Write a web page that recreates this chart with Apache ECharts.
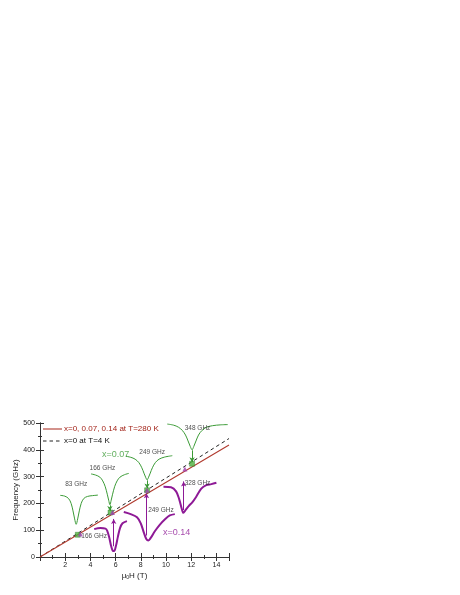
<!DOCTYPE html>
<html>
<head>
<meta charset="utf-8">
<script src="https://cdn.jsdelivr.net/npm/echarts@6/dist/echarts.min.js"></script>
<style>
  html, body { margin: 0; padding: 0; background: #fff; }
  #chart { width: 460px; height: 595px; }
</style>
</head>
<body>
<div id="chart"></div>
<script>
// lines: [field T, frequency GHz]
const line280K = [[0, 0], [15, 418]]
const line4K = [[0, 0], [15, 442]]

// x=0.07 spectra (green), drawn in plot units
const green83 = [[1.6,230],[1.97,227],[2.27,218],[2.47,200],[2.62,172],[2.75,142],[2.87,122],[2.99,142],[3.12,172],[3.27,200],[3.47,218],[3.77,226],[4.17,229],[4.6,231]]
const green166 = [[4.05,310],[4.4,306],[4.75,298],[4.98,284],[5.18,262],[5.35,232],[5.45,212],[5.55,195],[5.65,212],[5.75,232],[5.92,262],[6.12,284],[6.35,298],[6.7,307],[7.05,312]]
const green249 = [[6.8,376],[7.2,372],[7.55,365],[7.85,352],[8.08,333],[8.25,313],[8.38,298],[8.5,288],[8.62,298],[8.75,313],[8.92,333],[9.15,352],[9.45,365],[9.9,373],[10.5,378]]
const green348 = [[10.1,496],[10.6,492],[11.0,484],[11.3,472],[11.55,455],[11.75,433],[11.93,412],[12.07,400],[12.2,412],[12.38,433],[12.58,455],[12.85,472],[13.2,484],[13.7,490],[14.3,493],[14.9,494]]

// x=0.14 spectra (purple)
const purple166 = [[4.3,104],[4.8,108],[5.2,106],[5.35,96],[5.5,72],[5.65,40],[5.78,23],[5.88,22],[6.02,40],[6.18,75],[6.35,108],[6.55,126],[6.9,134]]
const purple249 = [[6.65,168],[7.2,160],[7.7,148],[8.0,125],[8.25,90],[8.45,66],[8.6,62],[8.8,72],[9.1,95],[9.5,120],[9.9,140],[10.3,155],[10.7,160]]
const purple328 = [[9.8,262],[10.4,260],[10.8,245],[11.05,215],[11.25,180],[11.38,165],[11.55,175],[11.8,190],[12.1,205],[12.4,225],[12.8,255],[13.2,268],[13.6,272],[14.0,277]]

// resonance points
const greenPoints = [[3.0,83],[5.6,166],[8.5,249],[12.07,348]]
const purplePoints = [[3.2,86],[5.75,166],[8.5,249],[11.5,328]]

// arrows [x, from, to]
const greenArrows = [[5.55,193,172],[8.5,286,256],[12.07,398,354]]
const purpleArrows = [[5.85,40,142],[8.45,80,238],[11.4,175,282]]

// annotations [x, y, text]
const peakLabels = [
  [2.87,270,'83 GHz'],[4.95,332,'166 GHz'],[8.9,390,'249 GHz'],[12.5,480,'348 GHz'],
  [4.3,79,'166 GHz'],[9.6,176,'249 GHz'],[12.5,274,'328 GHz']
]
const sampleLabels = [[6.0,382,'x=0.07','#3a9a35'],[10.85,90,'x=0.14','#8e1a96']]

const GREEN = '#3a9a35'
const PURPLE = '#8e1a96'
const FONT = 'Liberation Sans'

const chart = echarts.init(document.getElementById('chart'))

function curve(data, color, width) {
  return { type: 'line', data, smooth: 0.35, symbol: 'none', silent: true,
    lineStyle: { color, width }, z: 3 }
}

function arrows(list, color, width) {
  return { type: 'line', data: [], silent: true,
    markLine: { silent: true, symbol: ['none', 'arrow'], symbolSize: [4, 5],
      lineStyle: { color, width, type: 'solid' }, label: { show: false },
      data: list.map(a => [{ coord: [a[0], a[1]] }, { coord: [a[0], a[2]] }]) } }
}

const axisCommon = {
  axisLine: { lineStyle: { color: '#333', width: 1 } },
  axisTick: { inside: true, length: 4, lineStyle: { color: '#333' } },
  minorTick: { show: true, splitNumber: 2, length: 2, lineStyle: { color: '#333' } },
  splitLine: { show: false }
}

chart.setOption({
  animation: false,
  textStyle: { fontFamily: FONT },
  grid: { left: 40, right: 231, top: 423, bottom: 38 },
  xAxis: [
    Object.assign({ type: 'value', min: 0, max: 15, interval: 2,
      name: '{a|μ}{s|0}{a|H (T)}', nameLocation: 'middle', nameGap: 14,
      nameTextStyle: { rich: { a: { fontSize: 8, color: '#222' }, s: { fontSize: 5, color: '#222', verticalAlign: 'bottom', padding: [4, 0, 0, 0] } } },
      axisLabel: { fontSize: 7, color: '#222', margin: 5, showMaxLabel: false, formatter: v => (v === 0 ? '' : v) } }, axisCommon),
    Object.assign({ type: 'value', min: 0, max: 15, interval: 2, position: 'top',
      axisLabel: { show: false } }, axisCommon)
  ],
  yAxis: [
    Object.assign({ type: 'value', min: 0, max: 500, interval: 100,
      name: 'Frequency (GHz)', nameLocation: 'middle', nameGap: 18,
      nameTextStyle: { fontSize: 8, color: '#222' },
      axisLabel: { fontSize: 7, color: '#222', margin: 5 } }, axisCommon),
    Object.assign({ type: 'value', min: 0, max: 500, interval: 100, position: 'right',
      axisLabel: { show: false } }, axisCommon)
  ],
  series: [
    { type: 'line', data: line4K, symbol: 'none', silent: true, z: 2,
      lineStyle: { color: '#222', width: 1, type: [3.5, 3] } },
    { type: 'line', data: line280K, symbol: 'none', silent: true, z: 2,
      lineStyle: { color: '#b03a2e', width: 1.1 } },
    curve(green83, GREEN, 1), curve(green166, GREEN, 1), curve(green249, GREEN, 1), curve(green348, GREEN, 1),
    curve(purple166, PURPLE, 2), curve(purple249, PURPLE, 2), curve(purple328, PURPLE, 2),
    arrows(greenArrows, GREEN, 1),
    arrows(purpleArrows, PURPLE, 1),
    { type: 'scatter', data: greenPoints, symbol: 'rect', symbolSize: 5, z: 5, silent: true,
      itemStyle: { color: '#4caf3c', borderColor: '#2a7a25', borderWidth: 0.5 } },
    { type: 'scatter', data: purplePoints, symbol: 'triangle', symbolSize: 5, z: 5, silent: true,
      itemStyle: { color: '#a040b0' } },
    { type: 'scatter', data: peakLabels.map(p => ({ value: [p[0], p[1]], name: p[2] })),
      symbolSize: 0, silent: true, z: 6,
      label: { show: true, position: 'inside', formatter: p => p.name, fontSize: 6.5, color: '#222' } },
    { type: 'scatter', data: sampleLabels.map(p => ({ value: [p[0], p[1]], name: p[2], label: { color: p[3] } })),
      symbolSize: 0, silent: true, z: 6,
      label: { show: true, position: 'inside', formatter: p => p.name, fontSize: 9 } }
  ],
  graphic: [
    { type: 'line', shape: { x1: 43, y1: 429, x2: 62, y2: 429 }, style: { stroke: '#b03a2e', lineWidth: 1.1 } },
    { type: 'text', x: 64, y: 429, style: { text: 'x=0, 0.07, 0.14 at T=280 K', fill: '#a3241a', font: '8px "Liberation Sans"', verticalAlign: 'middle' } },
    { type: 'line', shape: { x1: 43, y1: 441, x2: 62, y2: 441 }, style: { stroke: '#222', lineWidth: 1, lineDash: [3.5, 3] } },
    { type: 'text', x: 64, y: 441, style: { text: 'x=0 at T=4 K', fill: '#111', font: '8px "Liberation Sans"', verticalAlign: 'middle' } }
  ]
})
</script>
</body>
</html>
